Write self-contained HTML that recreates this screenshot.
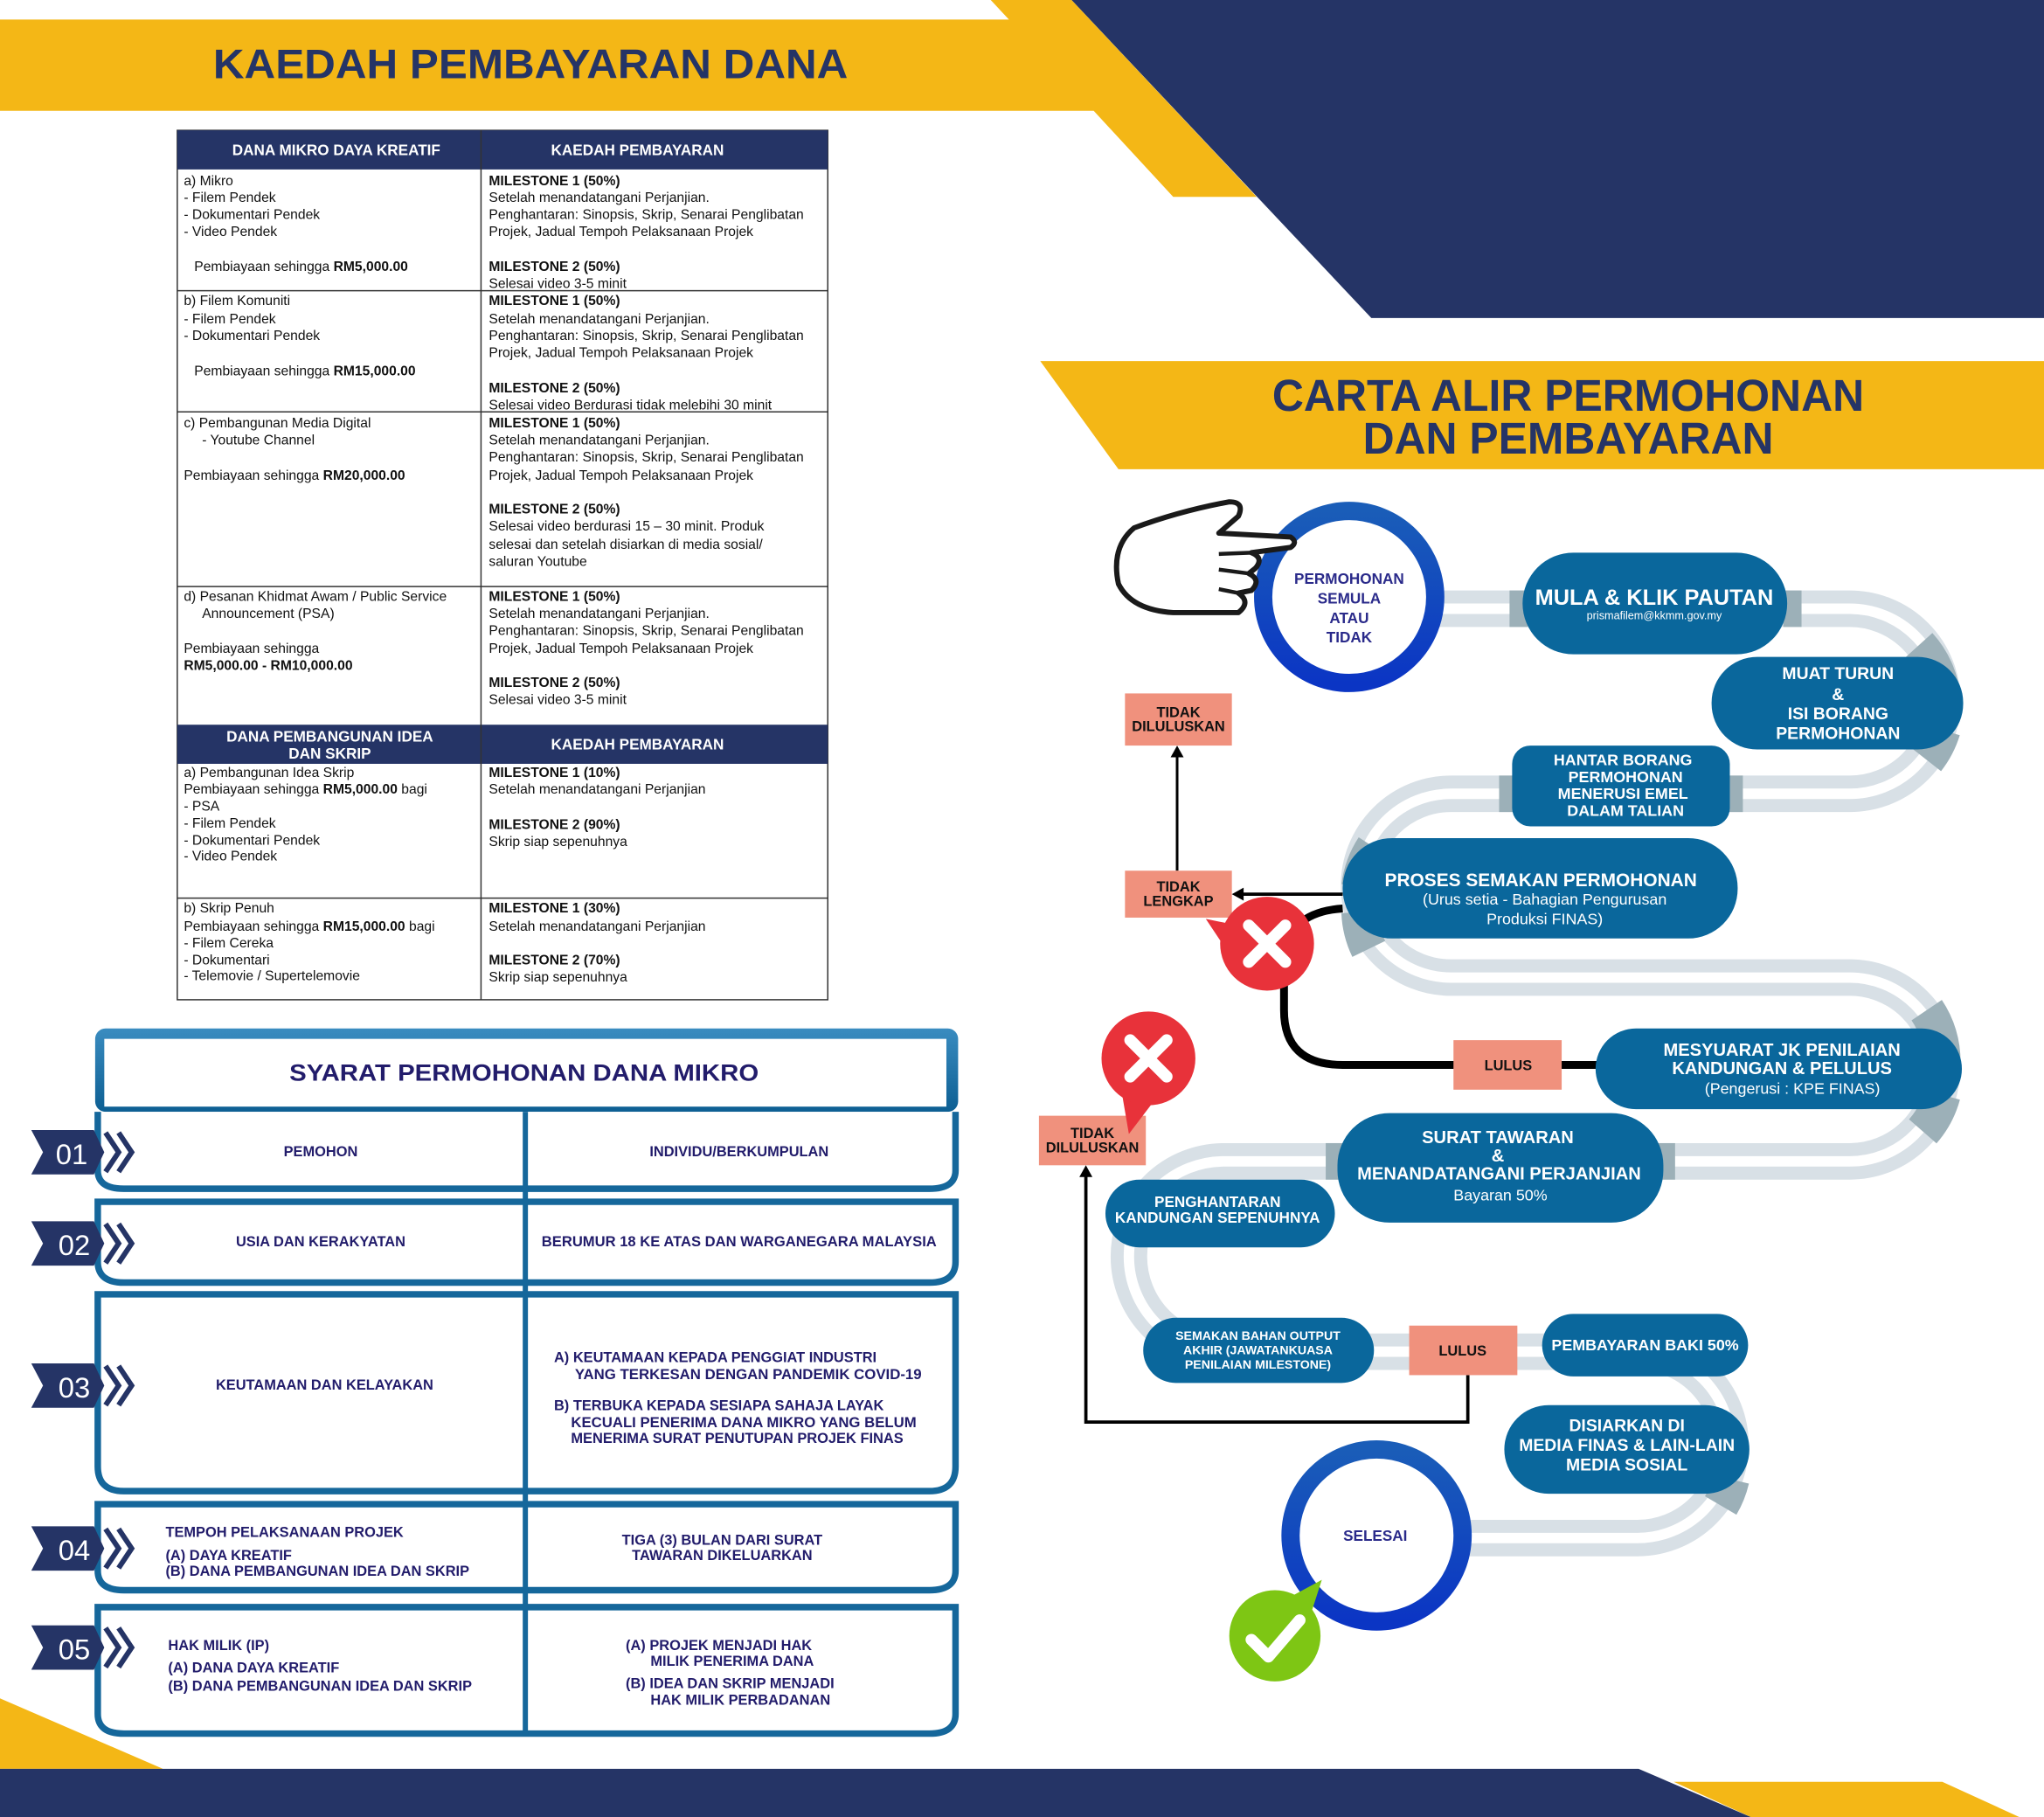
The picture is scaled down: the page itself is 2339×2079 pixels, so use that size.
<!DOCTYPE html>
<html><head><meta charset="utf-8"><style>
html,body{margin:0;padding:0;background:#fff}
svg{display:block}
text{font-family:"Liberation Sans",sans-serif}
</style></head><body>
<svg width="2339" height="2079" viewBox="0 0 1568 1394" preserveAspectRatio="none" xmlns="http://www.w3.org/2000/svg">
<defs>
<linearGradient id="ring" x1="0" y1="0" x2="0" y2="1"><stop offset="0" stop-color="#1a5db8"/><stop offset="1" stop-color="#0b35c4"/></linearGradient>
<linearGradient id="tb" x1="0" y1="0" x2="0" y2="1"><stop offset="0" stop-color="#3a8cc0"/><stop offset="1" stop-color="#0d5f93"/></linearGradient>
</defs>
<rect width="1568" height="1394" fill="#fff"/>
<!-- top decorations -->
<polygon points="822,0 1568,0 1568,244 1052,244" fill="#253466"/>
<polygon points="0,15 774,15 760,0 822,0 964,151 900,151 839,85 0,85" fill="#f4b716"/>
<text x="407" y="60" text-anchor="middle" font-size="32" font-weight="bold" fill="#253466" textLength="487" lengthAdjust="spacingAndGlyphs">KAEDAH PEMBAYARAN DANA</text>
<polygon points="798,277 1568,277 1568,360 858,360" fill="#f4b716"/>
<text x="1203" y="315" text-anchor="middle" font-size="34" font-weight="bold" fill="#253466" textLength="454" lengthAdjust="spacingAndGlyphs">CARTA ALIR PERMOHONAN</text>
<text x="1203" y="348" text-anchor="middle" font-size="34" font-weight="bold" fill="#253466" textLength="315" lengthAdjust="spacingAndGlyphs">DAN PEMBAYARAN</text>
<!-- bottom decorations -->
<polygon points="0,1303 125,1357 0,1357" fill="#f4b716"/>
<polygon points="1284,1367 1490,1367 1549,1394 1343,1394" fill="#f4b716"/>
<polygon points="0,1357 1257,1357 1343,1394 0,1394" fill="#253466"/>

<!-- payment table -->
<g font-size="10.5" fill="#111">
<rect x="136" y="100" width="499" height="667" fill="#fff" stroke="#333" stroke-width="1"/>
<rect x="136" y="100" width="499" height="30" fill="#253466"/>
<rect x="136" y="556" width="499" height="30" fill="#253466"/>
<line x1="369" y1="100" x2="369" y2="767" stroke="#333"/>
<g stroke="#333"><line x1="136" y1="223" x2="635" y2="223"/><line x1="136" y1="316" x2="635" y2="316"/><line x1="136" y1="450" x2="635" y2="450"/><line x1="136" y1="689" x2="635" y2="689"/></g>
<g fill="#fff" font-weight="bold" font-size="11.5" text-anchor="middle">
<text x="258" y="119">DANA MIKRO DAYA KREATIF</text><text x="489" y="119">KAEDAH PEMBAYARAN</text>
<text x="253" y="569">DANA PEMBANGUNAN IDEA</text><text x="253" y="582">DAN SKRIP</text><text x="489" y="575">KAEDAH PEMBAYARAN</text>
</g>
<g>
<text x="141" y="142">a) Mikro</text><text x="141" y="155">- Filem Pendek</text><text x="141" y="168">- Dokumentari Pendek</text><text x="141" y="181">- Video Pendek</text>
<text x="149" y="208">Pembiayaan sehingga <tspan font-weight="bold">RM5,000.00</tspan></text>
<text x="375" y="142" font-weight="bold">MILESTONE 1 (50%)</text><text x="375" y="155">Setelah menandatangani Perjanjian.</text><text x="375" y="168">Penghantaran: Sinopsis, Skrip, Senarai Penglibatan</text><text x="375" y="181">Projek, Jadual Tempoh Pelaksanaan Projek</text>
<text x="375" y="208" font-weight="bold">MILESTONE 2 (50%)</text><text x="375" y="221">Selesai video 3-5 minit</text>

<text x="141" y="234">b) Filem Komuniti</text><text x="141" y="248">- Filem Pendek</text><text x="141" y="261">- Dokumentari Pendek</text>
<text x="149" y="288">Pembiayaan sehingga <tspan font-weight="bold">RM15,000.00</tspan></text>
<text x="375" y="234" font-weight="bold">MILESTONE 1 (50%)</text><text x="375" y="248">Setelah menandatangani Perjanjian.</text><text x="375" y="261">Penghantaran: Sinopsis, Skrip, Senarai Penglibatan</text><text x="375" y="274">Projek, Jadual Tempoh Pelaksanaan Projek</text>
<text x="375" y="301" font-weight="bold">MILESTONE 2 (50%)</text><text x="375" y="314">Selesai video Berdurasi tidak melebihi 30 minit</text>

<text x="141" y="328">c) Pembangunan Media Digital</text><text x="155" y="341">- Youtube Channel</text>
<text x="141" y="368">Pembiayaan sehingga <tspan font-weight="bold">RM20,000.00</tspan></text>
<text x="375" y="328" font-weight="bold">MILESTONE 1 (50%)</text><text x="375" y="341">Setelah menandatangani Perjanjian.</text><text x="375" y="354">Penghantaran: Sinopsis, Skrip, Senarai Penglibatan</text><text x="375" y="368">Projek, Jadual Tempoh Pelaksanaan Projek</text>
<text x="375" y="394" font-weight="bold">MILESTONE 2 (50%)</text><text x="375" y="407">Selesai video berdurasi 15 – 30 minit. Produk</text><text x="375" y="421">selesai dan setelah disiarkan di media sosial/</text><text x="375" y="434">saluran Youtube</text>

<text x="141" y="461">d) Pesanan Khidmat Awam / Public Service</text><text x="155" y="474">Announcement (PSA)</text>
<text x="141" y="501">Pembiayaan sehingga</text><text x="141" y="514" font-weight="bold">RM5,000.00 - RM10,000.00</text>
<text x="375" y="461" font-weight="bold">MILESTONE 1 (50%)</text><text x="375" y="474">Setelah menandatangani Perjanjian.</text><text x="375" y="487">Penghantaran: Sinopsis, Skrip, Senarai Penglibatan</text><text x="375" y="501">Projek, Jadual Tempoh Pelaksanaan Projek</text>
<text x="375" y="527" font-weight="bold">MILESTONE 2 (50%)</text><text x="375" y="540">Selesai video 3-5 minit</text>

<text x="141" y="596">a) Pembangunan Idea Skrip</text><text x="141" y="609">Pembiayaan sehingga <tspan font-weight="bold">RM5,000.00</tspan> bagi</text><text x="141" y="622">- PSA</text><text x="141" y="635">- Filem Pendek</text><text x="141" y="648">- Dokumentari Pendek</text><text x="141" y="660">- Video Pendek</text>
<text x="375" y="596" font-weight="bold">MILESTONE 1 (10%)</text><text x="375" y="609">Setelah menandatangani Perjanjian</text>
<text x="375" y="636" font-weight="bold">MILESTONE 2 (90%)</text><text x="375" y="649">Skrip siap sepenuhnya</text>

<text x="141" y="700">b) Skrip Penuh</text><text x="141" y="714">Pembiayaan sehingga <tspan font-weight="bold">RM15,000.00</tspan> bagi</text><text x="141" y="727">- Filem Cereka</text><text x="141" y="740">- Dokumentari</text><text x="141" y="752">- Telemovie / Supertelemovie</text>
<text x="375" y="700" font-weight="bold">MILESTONE 1 (30%)</text><text x="375" y="714">Setelah menandatangani Perjanjian</text>
<text x="375" y="740" font-weight="bold">MILESTONE 2 (70%)</text><text x="375" y="753">Skrip siap sepenuhnya</text>
</g>
</g>

<!-- syarat -->
<g>
<rect x="73" y="789" width="662" height="64" rx="8" fill="url(#tb)"/>
<rect x="80" y="797" width="646" height="52" fill="#fff"/>
<text x="402" y="829" text-anchor="middle" font-size="18" font-weight="bold" fill="#221c6b" textLength="360" lengthAdjust="spacingAndGlyphs">SYARAT PERMOHONAN DANA MIKRO</text>
<g fill="#fff" stroke="#15679b" stroke-width="5">
<path d="M75,853 V898 Q75,912 95,912 H713 Q733,912 733,898 V853"/>
<path d="M75,922 H733 V968 Q733,984 713,984 H95 Q75,984 75,968 Z"/>
<path d="M75,993 H733 V1125 Q733,1144 713,1144 H95 Q75,1144 75,1125 Z"/>
<path d="M75,1154 H733 V1205 Q733,1220 713,1220 H95 Q75,1220 75,1205 Z"/>
<path d="M75,1233 H733 V1315 Q733,1330 713,1330 H95 Q75,1330 75,1315 Z"/>
</g>
<rect x="401" y="853" width="4" height="478" fill="#15679b"/>
<g fill="#221c6b" font-weight="bold" font-size="11" text-anchor="middle">
<text x="246" y="887">PEMOHON</text><text x="567" y="887">INDIVIDU/BERKUMPULAN</text>
<text x="246" y="956">USIA DAN KERAKYATAN</text><text x="567" y="956" textLength="303" lengthAdjust="spacingAndGlyphs">BERUMUR 18 KE ATAS DAN WARGANEGARA MALAYSIA</text>
<text x="249" y="1066">KEUTAMAAN DAN KELAYAKAN</text>
<text x="425" y="1045" text-anchor="start">A) KEUTAMAAN KEPADA PENGGIAT INDUSTRI</text>
<text x="441" y="1058" text-anchor="start" textLength="266" lengthAdjust="spacingAndGlyphs">YANG TERKESAN DENGAN PANDEMIK COVID-19</text>
<text x="425" y="1082" text-anchor="start">B) TERBUKA KEPADA SESIAPA SAHAJA LAYAK</text>
<text x="438" y="1095" text-anchor="start" textLength="265" lengthAdjust="spacingAndGlyphs">KECUALI PENERIMA DANA MIKRO YANG BELUM</text>
<text x="438" y="1107" text-anchor="start" textLength="255" lengthAdjust="spacingAndGlyphs">MENERIMA SURAT PENUTUPAN PROJEK FINAS</text>
<text x="127" y="1179" text-anchor="start">TEMPOH PELAKSANAAN PROJEK</text>
<text x="127" y="1197" text-anchor="start">(A) DAYA KREATIF</text>
<text x="127" y="1209" text-anchor="start">(B) DANA PEMBANGUNAN IDEA DAN SKRIP</text>
<text x="554" y="1185">TIGA (3) BULAN DARI SURAT</text><text x="554" y="1197">TAWARAN DIKELUARKAN</text>
<text x="129" y="1266" text-anchor="start">HAK MILIK (IP)</text>
<text x="129" y="1283" text-anchor="start">(A) DANA DAYA KREATIF</text>
<text x="129" y="1297" text-anchor="start">(B) DANA PEMBANGUNAN IDEA DAN SKRIP</text>
<text x="480" y="1266" text-anchor="start">(A) PROJEK MENJADI HAK</text><text x="499" y="1278" text-anchor="start">MILIK PENERIMA DANA</text>
<text x="480" y="1295" text-anchor="start">(B) IDEA DAN SKRIP MENJADI</text><text x="499" y="1308" text-anchor="start">HAK MILIK PERBADANAN</text>
</g>
<g id="badges">
<g transform="translate(0,884)"><polygon points="24,-17 72,-17 80,0 72,17 24,17 33,0" fill="#253466"/><polyline points="81,-15 91,0 81,15" fill="none" stroke="#253466" stroke-width="4"/><polyline points="91,-15 101,0 91,15" fill="none" stroke="#253466" stroke-width="4"/><text x="55" y="9" text-anchor="middle" font-size="22" fill="#fff">01</text></g>
<g transform="translate(0,954)"><polygon points="24,-17 72,-17 80,0 72,17 24,17 33,0" fill="#253466"/><polyline points="81,-15 91,0 81,15" fill="none" stroke="#253466" stroke-width="4"/><polyline points="91,-15 101,0 91,15" fill="none" stroke="#253466" stroke-width="4"/><text x="57" y="9" text-anchor="middle" font-size="22" fill="#fff">02</text></g>
<g transform="translate(0,1063)"><polygon points="24,-17 72,-17 80,0 72,17 24,17 33,0" fill="#253466"/><polyline points="81,-15 91,0 81,15" fill="none" stroke="#253466" stroke-width="4"/><polyline points="91,-15 101,0 91,15" fill="none" stroke="#253466" stroke-width="4"/><text x="57" y="9" text-anchor="middle" font-size="22" fill="#fff">03</text></g>
<g transform="translate(0,1188)"><polygon points="24,-17 72,-17 80,0 72,17 24,17 33,0" fill="#253466"/><polyline points="81,-15 91,0 81,15" fill="none" stroke="#253466" stroke-width="4"/><polyline points="91,-15 101,0 91,15" fill="none" stroke="#253466" stroke-width="4"/><text x="57" y="9" text-anchor="middle" font-size="22" fill="#fff">04</text></g>
<g transform="translate(0,1264)"><polygon points="24,-17 72,-17 80,0 72,17 24,17 33,0" fill="#253466"/><polyline points="81,-15 91,0 81,15" fill="none" stroke="#253466" stroke-width="4"/><polyline points="91,-15 101,0 91,15" fill="none" stroke="#253466" stroke-width="4"/><text x="57" y="9" text-anchor="middle" font-size="22" fill="#fff">05</text></g>
</g>
</g>

<!-- flow track -->
<path id="trk" d="M1035,467 H1419 A71,71 0 0 1 1419,609 H1113 A70.5,70.5 0 0 0 1113,750 H1419 A70.5,70.5 0 0 1 1419,891 H939 A73,73 0 0 0 939,1037 H1256 A71.5,71.5 0 0 1 1256,1180 H1055" fill="none" stroke="#d8e0e6" stroke-width="28"/>
<path d="M1035,467 H1419 A71,71 0 0 1 1419,609 H1113 A70.5,70.5 0 0 0 1113,750 H1419 A70.5,70.5 0 0 1 1419,891 H939 A73,73 0 0 0 939,1037 H1256 A71.5,71.5 0 0 1 1256,1180 H1055" fill="none" stroke="#fff" stroke-width="8"/>
<g fill="#9cb0b8">
<rect x="1158" y="453" width="14" height="28"/><rect x="1368" y="453" width="14" height="28"/>
<rect x="1150" y="595" width="14" height="28"/><rect x="1323" y="595" width="14" height="28"/>
<rect x="1017" y="877" width="14" height="28"/><rect x="1271" y="877" width="14" height="28"/>
</g>
<g fill="none" stroke="#9cb0b8" stroke-width="28">
<path d="M1472,495 A71,71 0 0 1 1490,535"/><path d="M1490,560 A71,71 0 0 1 1478,583"/>
<path d="M1478,775 A70.5,70.5 0 0 1 1490,815"/><path d="M1490,840 A70.5,70.5 0 0 1 1475,868"/>
<path d="M1054,650 A70.5,70.5 0 0 0 1043,680"/><path d="M1043,700 A70.5,70.5 0 0 0 1050,728"/>
<path d="M1313,1095 A71.5,71.5 0 0 1 1328,1115"/><path d="M1328,1135 A71.5,71.5 0 0 1 1320,1155"/>
</g>

<!-- connectors -->
<path d="M1030,697 Q985,700 985,740 V775 Q985,817 1030,817 H1230" fill="none" stroke="#000" stroke-width="6"/>
<line x1="1030" y1="686" x2="951" y2="686" stroke="#000" stroke-width="2.5"/>
<polygon points="945,686 954,681 954,691" fill="#000"/>
<line x1="903" y1="668" x2="903" y2="578" stroke="#000" stroke-width="2"/>
<polygon points="903,572 898,581 908,581" fill="#000"/>
<polyline points="1126,1055 1126,1091 833,1091 833,900" fill="none" stroke="#000" stroke-width="2.5"/>
<polygon points="833,894 828,903 838,903" fill="#000"/>

<!-- circles -->
<circle cx="1035" cy="458" r="66" fill="#fff" stroke="url(#ring)" stroke-width="14"/>
<g fill="#2a2a8a" font-size="11.5" font-weight="bold" text-anchor="middle">
<text x="1035" y="448">PERMOHONAN</text><text x="1035" y="463">SEMULA</text><text x="1035" y="478">ATAU</text><text x="1035" y="493">TIDAK</text>
</g>
<circle cx="1056" cy="1178" r="66" fill="#fff" stroke="url(#ring)" stroke-width="14"/>
<text x="1055" y="1182" text-anchor="middle" font-size="11.5" font-weight="bold" fill="#2a2a8a">SELESAI</text>

<!-- hand -->
<path d="M990,412 L935,409 L950,396 Q955,385 943,385 Q905,392 870,405 Q852,420 858,448 Q868,468 900,470 L950,470 Q960,462 950,455 L960,453 Q968,445 958,440 L963,436 Q970,428 960,424 L990,420 Q996,416 990,412 Z" fill="#fff" stroke="#1a1a1a" stroke-width="4" stroke-linejoin="round"/>
<path d="M935,425 L960,424 M935,437 L958,440 M935,452 L950,455" stroke="#1a1a1a" stroke-width="3" fill="none"/>

<!-- pills -->
<g fill="#0a679c">
<rect x="1168" y="424" width="203" height="78" rx="39"/>
<rect x="1313" y="504" width="193" height="71" rx="35"/>
<rect x="1160" y="572" width="167" height="62" rx="14"/>
<rect x="1030" y="643" width="303" height="77" rx="38"/>
<rect x="1224" y="789" width="281" height="62" rx="31"/>
<rect x="1026" y="854" width="250" height="84" rx="40"/>
<rect x="848" y="905" width="176" height="52" rx="26"/>
<rect x="877" y="1011" width="177" height="50" rx="25"/>
<rect x="1183" y="1008" width="158" height="48" rx="24"/>
<rect x="1154" y="1078" width="188" height="68" rx="34"/>
</g>
<g fill="#fff" font-weight="bold" text-anchor="middle">
<text x="1269" y="464" font-size="17">MULA &amp; KLIK PAUTAN</text>
<text x="1269" y="475" font-size="8.5" font-weight="normal">prismafilem@kkmm.gov.my</text>
<g font-size="13"><text x="1410" y="521">MUAT TURUN</text><text x="1410" y="537">&amp;</text><text x="1410" y="552">ISI BORANG</text><text x="1410" y="567">PERMOHONAN</text></g>
<g font-size="12"><text x="1245" y="587">HANTAR BORANG</text><text x="1247" y="600">PERMOHONAN</text><text x="1245" y="613">MENERUSI EMEL</text><text x="1247" y="626">DALAM TALIAN</text></g>
<text x="1182" y="680" font-size="14">PROSES SEMAKAN PERMOHONAN</text>
<text x="1185" y="694" font-size="12" font-weight="normal">(Urus setia - Bahagian Pengurusan</text>
<text x="1185" y="709" font-size="12" font-weight="normal">Produksi FINAS)</text>
<text x="1367" y="810" font-size="13.5">MESYUARAT JK PENILAIAN</text>
<text x="1367" y="824" font-size="13.5">KANDUNGAN &amp; PELULUS</text>
<text x="1375" y="839" font-size="12" font-weight="normal">(Pengerusi : KPE FINAS)</text>
<g font-size="13.5"><text x="1149" y="877">SURAT TAWARAN</text><text x="1149" y="891">&amp;</text><text x="1150" y="905">MENANDATANGANI PERJANJIAN</text></g>
<text x="1151" y="921" font-size="12" font-weight="normal">Bayaran 50%</text>
<text x="934" y="926" font-size="11.5">PENGHANTARAN</text><text x="934" y="938" font-size="11.5">KANDUNGAN SEPENUHNYA</text>
<g font-size="9.5"><text x="965" y="1028">SEMAKAN BAHAN OUTPUT</text><text x="965" y="1039">AKHIR (JAWATANKUASA</text><text x="965" y="1050">PENILAIAN MILESTONE)</text></g>
<text x="1262" y="1036" font-size="12">PEMBAYARAN BAKI 50%</text>
<g font-size="13"><text x="1248" y="1098">DISIARKAN DI</text><text x="1248" y="1113">MEDIA FINAS &amp; LAIN-LAIN</text><text x="1248" y="1128">MEDIA SOSIAL</text></g>
</g>

<!-- salmon boxes -->
<g fill="#f0917d">
<rect x="863" y="532" width="82" height="40"/>
<rect x="863" y="668" width="82" height="36"/>
<rect x="1115" y="798" width="83" height="38"/>
<rect x="797" y="856" width="82" height="38"/>
<rect x="1081" y="1017" width="83" height="38"/>
</g>
<g fill="#111" font-weight="bold" font-size="11" text-anchor="middle">
<text x="904" y="550">TIDAK</text><text x="904" y="561">DILULUSKAN</text>
<text x="904" y="684">TIDAK</text><text x="904" y="695">LENGKAP</text>
<text x="1157" y="821">LULUS</text>
<text x="838" y="873">TIDAK</text><text x="838" y="884">DILULUSKAN</text>
<text x="1122" y="1040">LULUS</text>
</g>

<!-- red X markers -->
<g>
<polygon points="925,705 950,710 945,735" fill="#e8323a"/>
<circle cx="972" cy="724" r="36" fill="#e8323a"/>
<path d="M958,710 L986,738 M986,710 L958,738" stroke="#fff" stroke-width="9" stroke-linecap="round"/>
</g>
<g>
<polygon points="866,870 860,835 885,845" fill="#e8323a"/>
<circle cx="881" cy="812" r="36" fill="#e8323a"/>
<path d="M867,798 L895,826 M895,798 L867,826" stroke="#fff" stroke-width="9" stroke-linecap="round"/>
</g>
<g>
<polygon points="1014,1212 990,1225 1005,1240" fill="#7ec614"/>
<circle cx="978" cy="1255" r="35" fill="#7ec614"/>
<path d="M960,1258 L973,1271 L997,1243" fill="none" stroke="#fff" stroke-width="9" stroke-linecap="round" stroke-linejoin="round"/>
</g>
</svg>
</body></html>
